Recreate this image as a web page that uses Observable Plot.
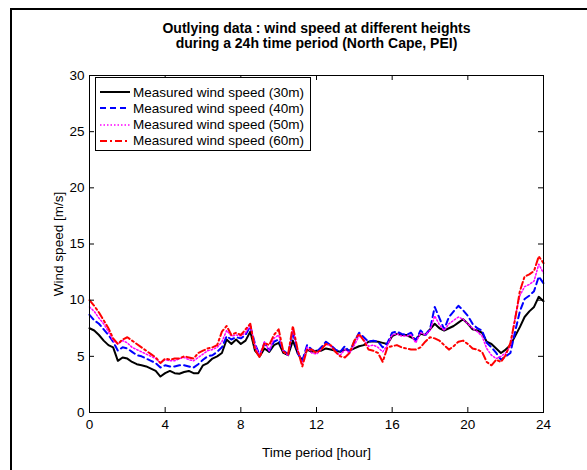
<!DOCTYPE html>
<html>
<head>
<meta charset="utf-8">
<script src="https://cdn.jsdelivr.net/npm/d3@7"></script>
<script src="https://cdn.jsdelivr.net/npm/@observablehq/plot@0.6"></script>
<style>
  body { margin: 0; background: #fff; }
  #fig { position: relative; width: 587px; height: 470px; overflow: hidden; font-family: "Liberation Sans", Arial, sans-serif; background: #fff; }
  #border { position: absolute; left: 10px; top: 8px; width: 620px; height: 520px; border-left: 2px solid #000; border-top: 2px solid #000; }
  #chart { position: absolute; left: 0; top: 0; }
  #legend { position: absolute; left: 95px; top: 77px; width: 214px; height: 72px; border: 1px solid #000; background: #fff; }
  .row { position: absolute; left: 4px; height: 16px; display: flex; align-items: center; font-size: 13.5px; color: #000; white-space: nowrap; }
  .row svg { margin-right: 3px; }
</style>
</head>
<body>
<div id="fig">
  <div id="border"></div>
  <div id="chart"></div>
  <div id="legend"></div>
</div>
<script>
// ---- data ----
const title = "Outlying data : wind speed at different heights\nduring a 24h time period (North Cape, PEI)";
const xLabel = "Time period [hour]";
const yLabel = "Wind speed [m/s]";
const xTicks = [0, 4, 8, 12, 16, 20, 24];
const yTicks = [0, 5, 10, 15, 20, 25, 30];
const seriesNames = ["Measured wind speed (30m)", "Measured wind speed (40m)", "Measured wind speed (50m)", "Measured wind speed (60m)"];

const hours = [0,0.25,0.5,0.75,1,1.25,1.5,1.75,2,2.25,2.5,2.75,3,3.25,3.5,3.75,4,4.25,4.5,4.75,5,5.25,5.5,5.75,6,6.25,6.5,6.75,7,7.25,7.5,7.75,8,8.25,8.5,8.75,9,9.25,9.5,9.75,10,10.25,10.5,10.75,11,11.25,11.5,11.75,12,12.25,12.5,12.75,13,13.25,13.5,13.75,14,14.25,14.5,14.75,15,15.25,15.5,15.75,16,16.25,16.5,16.75,17,17.25,17.5,17.75,18,18.25,18.5,18.75,19,19.25,19.5,19.75,20,20.25,20.5,20.75,21,21.25,21.5,21.75,22,22.25,22.5,22.75,23,23.25,23.5,23.75,24];

const ws30 = [7.5,7.3,6.9,6.4,6.0,5.8,4.6,4.9,4.8,4.5,4.3,4.2,4.1,3.9,3.7,3.2,3.5,3.7,3.5,3.45,3.6,3.7,3.5,3.5,4.2,4.4,4.8,5.0,5.3,6.5,6.1,6.5,6.1,6.4,7.2,5.5,5.0,5.7,5.4,6.0,6.2,5.3,5.1,6.4,5.3,4.6,5.6,5.4,5.5,5.5,5.7,5.6,5.5,5.4,5.6,5.5,5.7,5.9,6.0,6.3,6.35,6.3,6.2,6.1,6.8,7.0,6.9,6.9,6.7,6.5,7.0,6.9,7.4,7.9,7.5,7.3,7.5,7.7,8.0,8.3,7.9,7.4,7.3,7.1,6.3,6.1,5.7,5.3,5.6,6.0,6.8,7.6,8.5,9.0,9.4,10.3,9.9];
const ws40 = [8.7,8.2,7.9,7.4,6.9,6.3,5.5,5.8,5.7,5.4,5.1,5.0,4.8,4.6,4.4,4.0,4.2,4.1,4.1,4.2,4.2,4.1,4.0,4.3,4.7,5.0,5.1,5.4,5.8,6.8,6.5,6.7,6.6,6.9,7.7,6.1,5.1,6.2,5.5,6.3,6.5,5.5,5.2,7.2,5.3,4.6,6.0,5.6,5.4,5.8,6.3,6.0,5.6,5.4,5.9,5.4,6.3,7.1,6.7,6.3,6.4,6.3,5.8,6.2,7.1,7.2,7.0,6.9,7.1,6.4,7.3,6.9,7.4,9.4,8.4,7.4,8.5,9.0,9.5,9.1,8.6,7.9,7.5,7.3,6.2,5.8,5.3,4.7,5.0,5.3,7.2,9.0,10.1,10.4,10.8,12.1,11.5];
const ws50 = [9.4,9.0,8.4,7.9,7.2,6.4,6.1,6.4,6.2,5.8,5.6,5.4,5.2,5.0,4.8,4.4,4.7,4.6,4.6,4.8,4.9,4.7,4.6,4.9,5.2,5.5,5.6,5.8,6.3,7.3,6.8,6.9,6.8,7.1,7.8,6.0,5.0,6.3,5.5,6.6,6.9,5.4,5.1,7.4,5.6,4.3,5.8,5.3,5.2,5.6,6.1,5.9,5.4,5.1,5.6,5.3,6.0,6.8,6.5,5.9,6.0,5.8,5.4,6.0,6.9,7.0,6.8,6.8,6.9,6.2,7.1,6.9,7.3,8.6,7.8,7.3,7.9,8.2,8.5,8.3,7.9,7.5,7.2,6.8,5.7,5.1,4.8,5.0,5.3,5.9,8.5,10.4,11.2,11.4,11.7,13.2,12.4];
const ws60 = [10.0,9.5,8.9,8.2,7.5,6.6,6.1,6.5,6.7,6.4,6.1,5.8,5.5,5.2,4.9,4.4,4.8,4.7,4.8,4.8,5.0,4.9,4.8,5.3,5.5,5.7,5.8,6.0,7.2,7.7,6.9,7.1,6.9,7.4,7.9,5.6,4.9,6.2,6.0,6.9,7.4,5.4,5.2,7.7,5.6,4.1,5.6,5.6,5.3,5.6,6.1,6.0,5.4,5.0,4.9,5.3,6.4,7.0,6.4,5.6,5.5,5.3,4.5,5.8,5.9,6.0,5.8,5.7,5.6,5.6,5.8,6.3,6.7,6.6,6.4,6.0,5.6,5.9,6.3,6.4,6.1,5.7,5.6,5.4,4.5,4.2,4.7,4.5,5.1,6.2,8.3,10.8,12.1,12.3,12.6,13.9,13.3];

// ---- styles ----
const styles = [
  {stroke: "#000000", strokeWidth: 2, dash: null},
  {stroke: "#0000ff", strokeWidth: 2, dash: "6,4"},
  {stroke: "#ff00ff", strokeWidth: 1.5, dash: "1.5,2"},
  {stroke: "#ff0000", strokeWidth: 2, dash: "7,3,2,3"}
];
const allSeries = [ws30, ws40, ws50, ws60];
const tables = allSeries.map(vals => vals.map((v, i) => ({hour: hours[i], speed: v})));

const W = 587, H = 470, mL = 89, mR = 44, mT = 75, mB = 58;
const frameW = W - mL - mR, frameH = H - mT - mB;
const tick = 5;
const font = "'Liberation Sans', Arial, sans-serif";

const lineMarks = tables.map((t, i) => Plot.line(t, {
  x: "hour", y: "speed", stroke: styles[i].stroke, strokeWidth: styles[i].strokeWidth,
  strokeDasharray: styles[i].dash, strokeLinejoin: "round"
}));

const chart = Plot.plot({
  width: W, height: H,
  marginLeft: mL, marginRight: mR, marginTop: mT, marginBottom: mB,
  style: {fontFamily: font, fontSize: "13.5px", background: "transparent", color: "#000"},
  x: {domain: [0, 24]},
  y: {domain: [0, 30]},
  marks: [
    ...lineMarks,
    Plot.frame({stroke: "#000", strokeWidth: 1}),
    Plot.tickX(xTicks, {x: d => d, insetTop: frameH - tick, stroke: "#000"}),
    Plot.tickX(xTicks, {x: d => d, insetBottom: frameH - tick, stroke: "#000"}),
    Plot.tickY(yTicks, {y: d => d, insetRight: frameW - tick, stroke: "#000"}),
    Plot.tickY(yTicks, {y: d => d, insetLeft: frameW - tick, stroke: "#000"}),
    Plot.axisX({ticks: xTicks, tickSize: 0, tickPadding: 7, fontSize: 13.5,
      label: xLabel, labelAnchor: "center", labelArrow: "none", labelOffset: 44}),
    Plot.axisY({ticks: yTicks, tickSize: 0, tickPadding: 5, fontSize: 13.5,
      label: yLabel, labelAnchor: "center", labelArrow: "none", labelOffset: 36}),
    Plot.text([title], {text: d => d, frameAnchor: "top", lineAnchor: "top", dy: -53,
      fontSize: 14, fontWeight: "bold", lineHeight: 1.08, fill: "#000"})
  ]
});
document.getElementById("chart").appendChild(chart);

// ---- legend ----
const legend = document.getElementById("legend");
seriesNames.forEach((name, i) => {
  const row = document.createElement("div");
  row.className = "row";
  row.style.top = (6 + i * 16.3) + "px";
  const s = styles[i];
  row.innerHTML = `<svg width="30" height="6"><line x1="0" y1="3" x2="30" y2="3" stroke="${s.stroke}" stroke-width="${s.strokeWidth}" ${s.dash ? `stroke-dasharray="${s.dash}"` : ""}/></svg><span>${name}</span>`;
  legend.appendChild(row);
});
</script>
</body>
</html>
